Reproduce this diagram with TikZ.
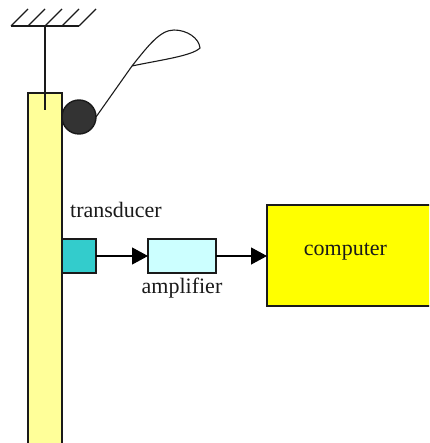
\documentclass[tikz,border=0pt]{standalone}
\usepackage{fontspec}
\setmainfont{Liberation Serif}
\usetikzlibrary{arrows.meta}
\definecolor{barc}{HTML}{FFFF99}
\definecolor{transc}{HTML}{33CCCC}
\definecolor{ampc}{HTML}{CCFFFF}
\definecolor{ballc}{HTML}{333333}
\definecolor{compc}{HTML}{FFFF00}
\definecolor{inkc}{HTML}{1A1A1A}
\tikzset{
  ln/.style={draw=inkc,line width=1.4pt},
  thin line/.style={draw=inkc,line width=1.1pt},
  boxn/.style={ln,inner sep=0pt,outer sep=0pt,anchor=north west},
  lab/.style={inner sep=0pt,text=inkc,anchor=base,font=\fontsize{22}{22}\selectfont},
  arr/.style={draw=black,line width=1.2pt,-{Triangle[length=16pt,width=17pt]}}
}
\begin{document}
\begin{tikzpicture}[x=1pt,y=-1pt]
\useasboundingbox (0,0) rectangle (429,443);
\begin{scope}
\clip (0,0) rectangle (429,443);
\node[boxn,fill=barc,minimum width=34pt,minimum height=360pt] (bar) at (28,93) {};
\coordinate (top) at (45,26);
\coordinate (bob) at (45,110);
\draw[thin line] (top) -- (bob);
\coordinate (g0) at (11,26); \coordinate (g1) at (79,26);
\draw[thin line] (g0) -- (g1);
\foreach \x in {11,28,45,62,79} \draw[thin line] (\x,26) -- (\x+17,9);
\node[boxn,circle,fill=ballc,minimum size=34pt,anchor=center] (ball) at (79,117) {};
\coordinate (knot) at (132,66);
\draw[thin line] (ball.east) -- (knot);
\draw[thin line] (knot) .. controls (148,46) and (160,30) .. (174,30) .. controls (187,30) and (199,38) .. (200,48) .. controls (192,56) and (160,60) .. (knot);
\node[boxn,fill=transc,minimum width=34pt,minimum height=34pt] (trans) at (62,239) {};
\node[boxn,fill=ampc,minimum width=68pt,minimum height=34pt] (amp) at (148,239) {};
\node[boxn,fill=compc,minimum width=175pt,minimum height=101pt] (comp) at (267,205) {};
\draw[arr] (trans.east) -- (amp.west);
\coordinate (compin) at (267,256);
\draw[arr] (amp.east) -- (compin);
\node[lab] (ltrans) at (116,217) {transducer};
\node[lab] (lamp) at (182,293) {amplifier};
\node[lab] (lcomp) at (345.5,255) {computer};
\end{scope}
\end{tikzpicture}
\end{document}
